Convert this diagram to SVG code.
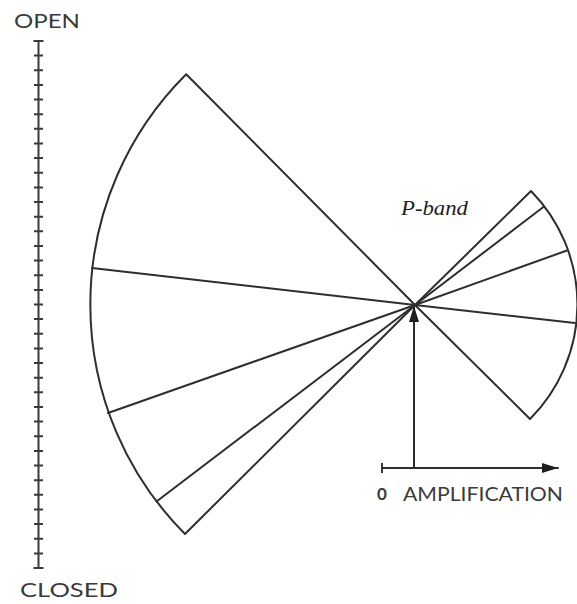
<svg xmlns="http://www.w3.org/2000/svg" width="577" height="604" viewBox="0 0 577 604">
<style>
.ln{stroke:#2e2e2e;stroke-width:2;fill:none;stroke-linecap:round;stroke-linejoin:round}
.tk{stroke:#3a3a3a;stroke-width:2}
.lbl{font-family:Lato,"Liberation Sans",sans-serif;fill:#3a3a3a}
.it{font-family:"Liberation Serif",serif;font-style:italic;fill:#1e1e1e}
</style>
<defs>
<marker id="ahv" viewBox="0 0 16 10" refX="16" refY="5" markerWidth="16" markerHeight="10" markerUnits="userSpaceOnUse" orient="auto">
<path d="M0,0 L16,5 L0,10 Z" fill="#1e1e1e"/>
</marker>
</defs>
<rect width="577" height="604" fill="#fff"/>

<g id="scale">
<text class="lbl" x="14" y="28" font-size="19" textLength="66" lengthAdjust="spacingAndGlyphs">OPEN</text>
<line class="tk" x1="38.5" y1="41" x2="38.5" y2="568"/>
<path class="tk" d="M33.5,41h10M34,55.6h9M34,70.3h9M34,84.9h9M34,99.6h9M34,114.2h9M34,128.8h9M34,143.5h9M34,158.1h9M34,172.8h9M34,187.4h9M34,202h9M34,216.7h9M34,231.3h9M34,246h9M34,260.6h9M34,275.2h9M34,289.9h9M34,304.5h9M34,319.1h9M34,333.8h9M34,348.4h9M34,363.1h9M34,377.7h9M34,392.3h9M34,407h9M34,421.6h9M34,436.3h9M34,450.9h9M34,465.5h9M34,480.2h9M34,494.8h9M34,509.5h9M34,524.1h9M34,538.7h9M34,553.4h9M33.5,568h10"/>
<text class="lbl" x="20" y="597" font-size="20" textLength="98" lengthAdjust="spacingAndGlyphs">CLOSED</text>
</g>

<g id="left-fan">
<path class="ln" d="M415,305 L186.2,74.2 A325,325 0 0 0 185,534 Z"/>
<line class="ln" x1="415" y1="305" x2="92" y2="268"/>
<line class="ln" x1="415" y1="305" x2="108" y2="413"/>
<line class="ln" x1="415" y1="305" x2="156.5" y2="501.5"/>
</g>

<g id="right-fan">
<path class="ln" d="M415,305 L531,191 A162,162 0 0 1 530,419 Z"/>
<line class="ln" x1="415" y1="305" x2="544" y2="206.5"/>
<line class="ln" x1="415" y1="305" x2="567" y2="250.5"/>
<line class="ln" x1="415" y1="305" x2="575" y2="323"/>
<text class="it" x="401" y="215" font-size="21" textLength="67" lengthAdjust="spacingAndGlyphs">P-band</text>
</g>

<g id="amplification-axis">
<line class="tk" x1="382" y1="463" x2="382" y2="473"/>
<text class="lbl" x="377" y="500" font-size="17" font-weight="bold">0</text>
<text class="lbl" x="403" y="501" font-size="19" textLength="160" lengthAdjust="spacingAndGlyphs">AMPLIFICATION</text>
</g>

<g id="connectors">
<line class="ln" x1="382" y1="468" x2="558" y2="468" marker-end="url(#ahv)"/>
<line class="ln" x1="414" y1="468" x2="414" y2="306" marker-end="url(#ahv)"/>
</g>
</svg>
